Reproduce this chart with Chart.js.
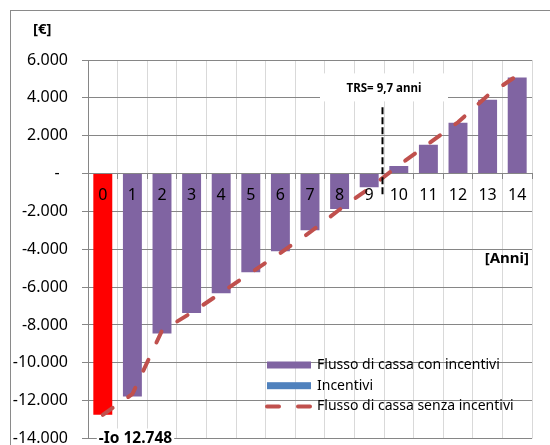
<!DOCTYPE html>
<html>
<head>
<meta charset="utf-8">
<script src="https://cdn.jsdelivr.net/npm/chart.js@4.4.0/dist/chart.umd.min.js"></script>
<style>
html, body { margin: 0; padding: 0; background: #fff; overflow: hidden; }
#wrap { position: relative; width: 550px; height: 445px; overflow: hidden; }
#frame { position: absolute; left: 10px; top: 10px; width: 600px; height: 500px; border: 1px solid #8a8a8a; }
canvas { position: absolute; left: 0; top: 0; }
</style>
</head>
<body>
<div id="wrap"><div id="frame"></div><canvas id="chart" width="550" height="445"></canvas></div>
<script>
// dati
var anni = ['0', '1', '2', '3', '4', '5', '6', '7', '8', '9', '10', '11', '12', '13', '14'];
var flussoConIncentivi = [-12748, -11780, -8450, -7370, -6330, -5220, -4110, -3000, -1870, -720, 400, 1520, 2690, 3900, 5070];
var incentivi = [0, 0, 0, 0, 0, 0, 0, 0, 0, 0, 0, 0, 0, 0, 0];
var flussoSenzaIncentivi = [-12748, -11650, -8300, -7350, -6300, -5240, -4200, -3100, -1900, -780, 430, 1570, 2710, 4120, 5180];
var yMin = -14000, yMax = 6000, yStep = 2000;
var investimento = '-Io 12.748';
var trsTesto = 'TRS= 9,7 anni';
var trsPos = 9.43; // posizione sull'asse anni (indice categoria)

var FONT = "'Noto Sans', sans-serif";
Chart.defaults.font.family = FONT;
Chart.defaults.color = '#000';

function formatEuro(v) {
    if (v === 0) return '-  ';
    var s = Math.abs(v).toString().replace(/\B(?=(\d{3})+(?!\d))/g, '.');
    return (v < 0 ? '-' : '') + s;
}

var legenda = [
    { label: 'Flusso di cassa con incentivi', color: '#8064A2', type: 'bar' },
    { label: 'Incentivi', color: '#4F81BD', type: 'bar' },
    { label: 'Flusso di cassa senza incentivi', color: '#C0504D', type: 'line' }
];

var annotazioni = {
    id: 'annotazioni',
    afterDraw: function (chart) {
        var ctx = chart.ctx;
        var x = chart.scales.x, y = chart.scales.y;
        var ca = chart.chartArea;
        ctx.save();

        // riquadro TRS
        var tx = x.getPixelForValue(9.5), ty = y.getPixelForValue(4500);
        ctx.fillStyle = '#fff';
        ctx.fillRect(tx - 64, ty - 15, 128, 28);
        ctx.fillStyle = '#000';
        ctx.font = "bold 11.5px " + FONT;
        ctx.textAlign = 'center';
        ctx.textBaseline = 'middle';
        ctx.fillText(trsTesto, tx, ty);

        // linea verticale TRS
        var lx = Math.round(x.getPixelForValue(trsPos)) + 0.5;
        ctx.strokeStyle = '#000';
        ctx.lineWidth = 2;
        ctx.setLineDash([7, 3]);
        ctx.beginPath();
        ctx.moveTo(lx, y.getPixelForValue(3500));
        ctx.lineTo(lx, y.getPixelForValue(-1200));
        ctx.stroke();
        ctx.setLineDash([]);

        // titoli assi
        ctx.font = "bold 15px " + FONT;
        ctx.textAlign = 'right';
        ctx.fillText('[Anni]', ca.right - 3, y.getPixelForValue(-4500));
        ctx.textAlign = 'left';
        ctx.fillText('[€]', ca.left - 55, ca.top - 30);

        // investimento iniziale
        ctx.font = "bold 15.5px " + FONT;
        var ix = x.getPixelForValue(0) - 4;
        var iw = ctx.measureText(investimento).width;
        ctx.fillStyle = '#fff';
        ctx.fillRect(ix - 2, ca.bottom - 10, iw + 4, 20);
        ctx.fillStyle = '#000';
        ctx.fillText(investimento, ix, ca.bottom);

        // legenda
        ctx.font = "14px " + FONT;
        var lgx = 267, lgy = 365, rowH = 20.7;
        legenda.forEach(function (item, i) {
            var yy = lgy + i * rowH;
            if (item.type === 'bar') {
                ctx.fillStyle = item.color;
                ctx.fillRect(lgx, yy - 3.5, 44, 7);
            } else {
                ctx.strokeStyle = item.color;
                ctx.lineWidth = 4;
                ctx.lineCap = 'round';
                ctx.setLineDash([12, 19]);
                ctx.beginPath();
                ctx.moveTo(lgx, yy);
                ctx.lineTo(lgx + 44, yy);
                ctx.stroke();
                ctx.setLineDash([]);
            }
            ctx.fillStyle = '#000';
            ctx.textAlign = 'left';
            ctx.fillText(item.label, lgx + 50, yy);
        });
        ctx.restore();
    }
};

var ctx = document.getElementById('chart');
var chart = new Chart(ctx, {
    type: 'bar',
    data: {
        labels: anni,
        datasets: [{
            type: 'line',
            label: 'Flusso di cassa senza incentivi',
            data: flussoSenzaIncentivi,
            borderColor: '#C0504D',
            borderWidth: 4,
            borderDash: [12, 19],
            borderCapStyle: 'round',
            pointRadius: 0,
            fill: false,
            tension: 0,
            order: 0
        }, {
            label: 'Flusso di cassa con incentivi',
            data: flussoConIncentivi,
            backgroundColor: anni.map(function (a, i) { return i === 0 ? '#FF0000' : '#8064A2'; }),
            barPercentage: 0.64,
            categoryPercentage: 1,
            grouped: false,
            order: 1
        }, {
            label: 'Incentivi',
            data: incentivi,
            backgroundColor: '#4F81BD',
            barPercentage: 0.64,
            categoryPercentage: 1,
            grouped: false,
            order: 2
        }]
    },
    options: {
        responsive: false,
        animation: false,
        layout: { padding: { left: 0, top: 60, right: 18, bottom: 6.5 } },
        plugins: { legend: { display: false }, tooltip: { enabled: false } },
        scales: {
            x: {
                position: { y: 0 },
                afterFit: function (s) { s.height = 0; },
                grid: { offset: true, color: '#d9d9d9', tickColor: '#868686', tickLength: 5, lineWidth: 1 },
                border: { color: '#868686' },
                ticks: { z: 1, padding: 7, font: { size: 16 }, color: '#000', maxRotation: 0, autoSkip: false }
            },
            y: {
                min: yMin,
                max: yMax,
                afterFit: function (s) { s.width = 88; s.paddingTop = 0; s.paddingBottom = 0; },
                grid: { color: '#868686', tickLength: 6 },
                border: { color: '#868686' },
                ticks: { stepSize: yStep, padding: 14, font: { size: 16 }, color: '#000', callback: formatEuro }
            }
        }
    },
    plugins: [annotazioni]
});
</script>
</body>
</html>
